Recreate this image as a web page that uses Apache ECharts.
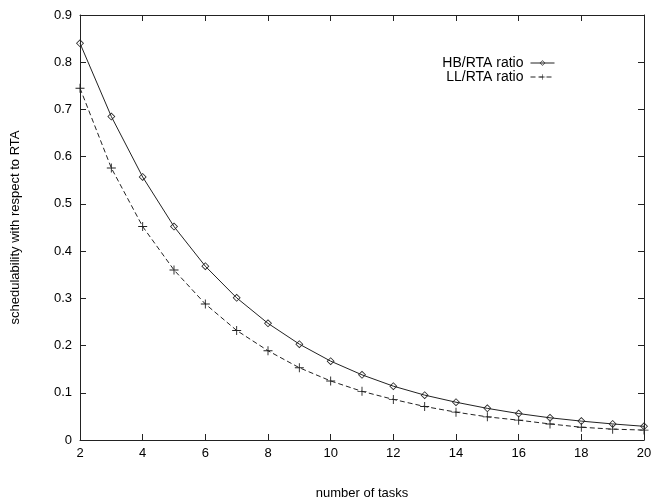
<!DOCTYPE html>
<html>
<head>
<meta charset="utf-8">
<script src="https://cdn.jsdelivr.net/npm/echarts@6/dist/echarts.min.js"></script>
<style>
  html, body { margin: 0; padding: 0; background: #fff; }
  #chart { width: 651px; height: 499px; }
</style>
</head>
<body>
<div id="chart"></div>
<script>
const tasks = [2, 3, 4, 5, 6, 7, 8, 9, 10, 11, 12, 13, 14, 15, 16, 17, 18, 19, 20];
const hbRatio = [0.840, 0.685, 0.557, 0.452, 0.368, 0.301, 0.247, 0.203, 0.167, 0.138, 0.114,
  0.095, 0.080, 0.067, 0.056, 0.047, 0.040, 0.034, 0.029];
const llRatio = [0.745, 0.576, 0.452, 0.360, 0.288, 0.232, 0.189, 0.153, 0.125, 0.103, 0.086,
  0.071, 0.059, 0.049, 0.042, 0.034, 0.027, 0.023, 0.021];

const font = 'Liberation Sans, Arial, sans-serif';
const ink = '#222';
// thin outline diamond (outer clockwise, inner counter-clockwise = hole)
const diamond = 'path://M5,0L10,5L5,10L0,5ZM5,1.4L1.4,5L5,8.6L8.6,5Z';
const plus = 'path://M4.5,0h1v4.5h4.5v1h-4.5v4.5h-1v-4.5h-4.5v-1h4.5z';

const chart = echarts.init(document.getElementById('chart'));

const axisBase = {
  type: 'value',
  axisLine: { show: true, onZero: false, lineStyle: { color: ink, width: 1 } },
  axisTick: { show: true, inside: true, length: 6, lineStyle: { color: ink } },
  splitLine: { show: false }
};

chart.setOption({
  animation: false,
  backgroundColor: '#fff',
  grid: { left: 80, right: 7, top: 15, bottom: 59, containLabel: false, outerBoundsMode: 'none' },
  legend: {
    orient: 'vertical',
    right: 96,
    top: 56,
    align: 'right',
    itemWidth: 24,
    itemHeight: 7,
    itemGap: 0,
    padding: 0,
    lineStyle: { width: 1 },
    textStyle: { fontFamily: font, fontSize: 14, color: '#000', lineHeight: 13, padding: [0, 2, 0, 0] },
    data: ['HB/RTA ratio', 'LL/RTA ratio']
  },
  xAxis: [
    Object.assign({}, axisBase, {
      min: 2, max: 20, interval: 2,
      position: 'bottom',
      name: 'number of tasks',
      nameLocation: 'middle',
      nameGap: 47,
      nameTextStyle: { fontFamily: font, fontSize: 13, color: '#000' },
      axisLabel: { fontFamily: font, fontSize: 13, color: '#000', margin: 7 }
    }),
    Object.assign({}, axisBase, {
      min: 2, max: 20, interval: 2,
      position: 'top',
      axisLabel: { show: false }
    })
  ],
  yAxis: [
    Object.assign({}, axisBase, {
      min: 0, max: 0.9, interval: 0.1,
      position: 'left',
      name: 'schedulability with respect to RTA',
      nameLocation: 'middle',
      nameGap: 58,
      nameTextStyle: { fontFamily: font, fontSize: 13, color: '#000' },
      axisLabel: {
        fontFamily: font, fontSize: 13, color: '#000', margin: 8,
        formatter: v => (v === 0 ? '0' : v.toFixed(1))
      }
    }),
    Object.assign({}, axisBase, {
      min: 0, max: 0.9, interval: 0.1,
      position: 'right',
      axisLabel: { show: false }
    })
  ],
  series: [
    {
      name: 'HB/RTA ratio',
      type: 'line',
      data: tasks.map((t, i) => [t, hbRatio[i]]),
      symbol: diamond,
      symbolSize: 8,
      showAllSymbol: true,
      lineStyle: { color: ink, width: 1 },
      itemStyle: { color: ink }
    },
    {
      name: 'LL/RTA ratio',
      type: 'line',
      data: tasks.map((t, i) => [t, llRatio[i]]),
      symbol: plus,
      symbolSize: 9,
      showAllSymbol: true,
      lineStyle: { color: ink, width: 1, type: [5, 3] },
      itemStyle: { color: ink }
    }
  ]
});
</script>
</body>
</html>
